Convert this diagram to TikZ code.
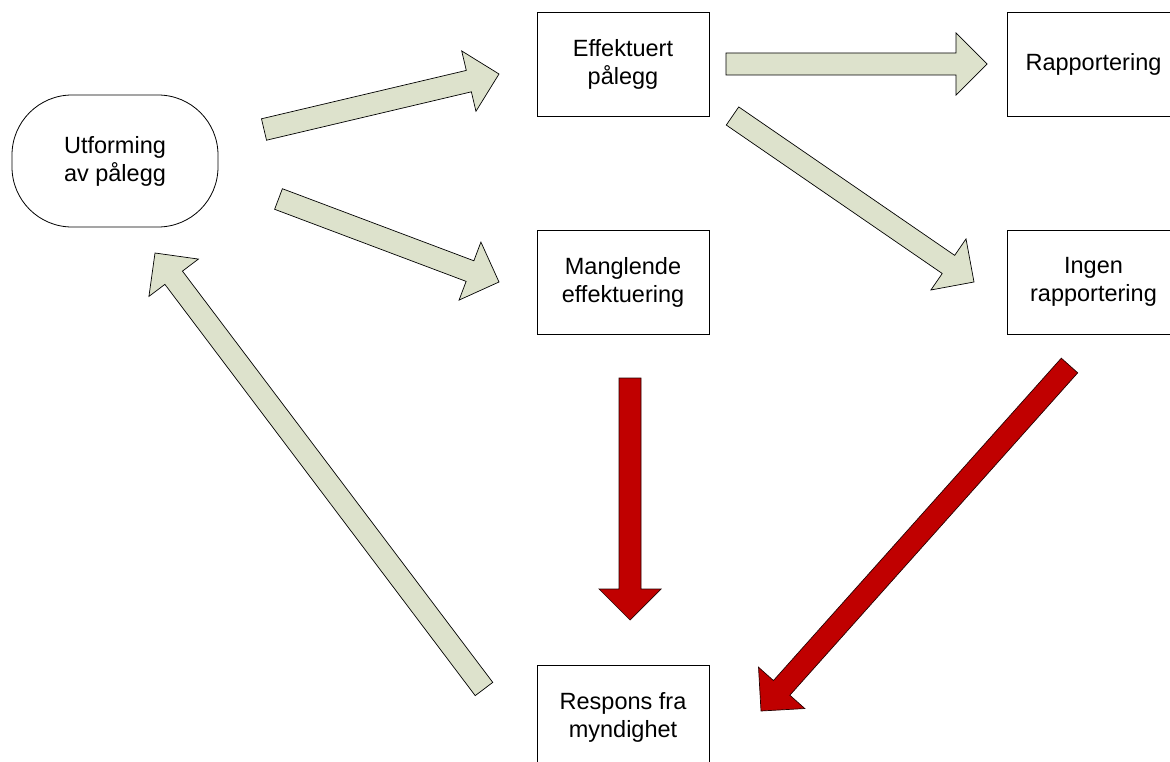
\documentclass[tikz,border=0pt]{standalone}
\usepackage{fontspec}
\setmainfont{Liberation Sans}
\usetikzlibrary{calc}
\definecolor{arrgreen}{RGB}{221,226,204}
\definecolor{arrred}{RGB}{192,0,0}
\newcommand{\blockarr}[3]{%
  \coordinate (hb) at ($(#2)!31pt!(#1)$);
  \draw[#3] ($(#1)!11pt!90:(#2)$) -- ($(hb)!11pt!-90:(#1)$) -- ($(hb)!31pt!-90:(#1)$) -- (#2) -- ($(hb)!31pt!90:(#1)$) -- ($(hb)!11pt!90:(#1)$) -- ($(#1)!11pt!-90:(#2)$) -- cycle;}
\begin{document}
\begin{tikzpicture}[x=1pt,y=-1pt,
  box/.style={draw=black, line width=0.8pt, fill=white, minimum width=172pt, minimum height=104pt, align=center, inner sep=0pt, font=\fontsize{23.5}{28}\selectfont},
  startbox/.style={draw=black, line width=0.8pt, fill=white, minimum width=206pt, minimum height=132pt, rounded corners=60pt, align=center, inner sep=0pt, font=\fontsize{23.5}{28}\selectfont},
  greenarr/.style={draw=black, line width=0.7pt, fill=arrgreen, line join=miter},
  redarr/.style={draw=black!80!arrred, line width=0.7pt, fill=arrred, line join=miter}]
\useasboundingbox (0,0) rectangle (1170,762);
\clip (0,0) rectangle (1170,762);
\node[startbox] (utf) at (115,161) {Utforming\\av pålegg};
\node[box] (eff) at (623,64.5) {Effektuert\\pålegg};
\node[box] (rap) at (1093.5,64.5) {Rapportering};
\node[box] (man) at (623,282) {Manglende\\effektuering};
\node[box] (ing) at (1093.5,282) {Ingen\\rapportering};
\node[box] (res) at (623,717) {Respons fra\\myndighet};
\coordinate (a1s) at (264,129.5); \coordinate (a1e) at (499,74);
\coordinate (a2s) at (726,64);    \coordinate (a2e) at (987,64);
\coordinate (a3s) at (278.5,199); \coordinate (a3e) at (499,282);
\coordinate (a4s) at (732.5,116); \coordinate (a4e) at (974,282);
\coordinate (a5s) at (630,378);   \coordinate (a5e) at (630,620);
\coordinate (a6s) at (1069.5,365.5); \coordinate (a6e) at (761,711);
\coordinate (a7s) at (484,689);   \coordinate (a7e) at (155,253);
\blockarr{a1s}{a1e}{greenarr}
\blockarr{a2s}{a2e}{greenarr}
\blockarr{a3s}{a3e}{greenarr}
\blockarr{a4s}{a4e}{greenarr}
\blockarr{a5s}{a5e}{redarr}
\blockarr{a6s}{a6e}{redarr}
\blockarr{a7s}{a7e}{greenarr}
\end{tikzpicture}
\end{document}
